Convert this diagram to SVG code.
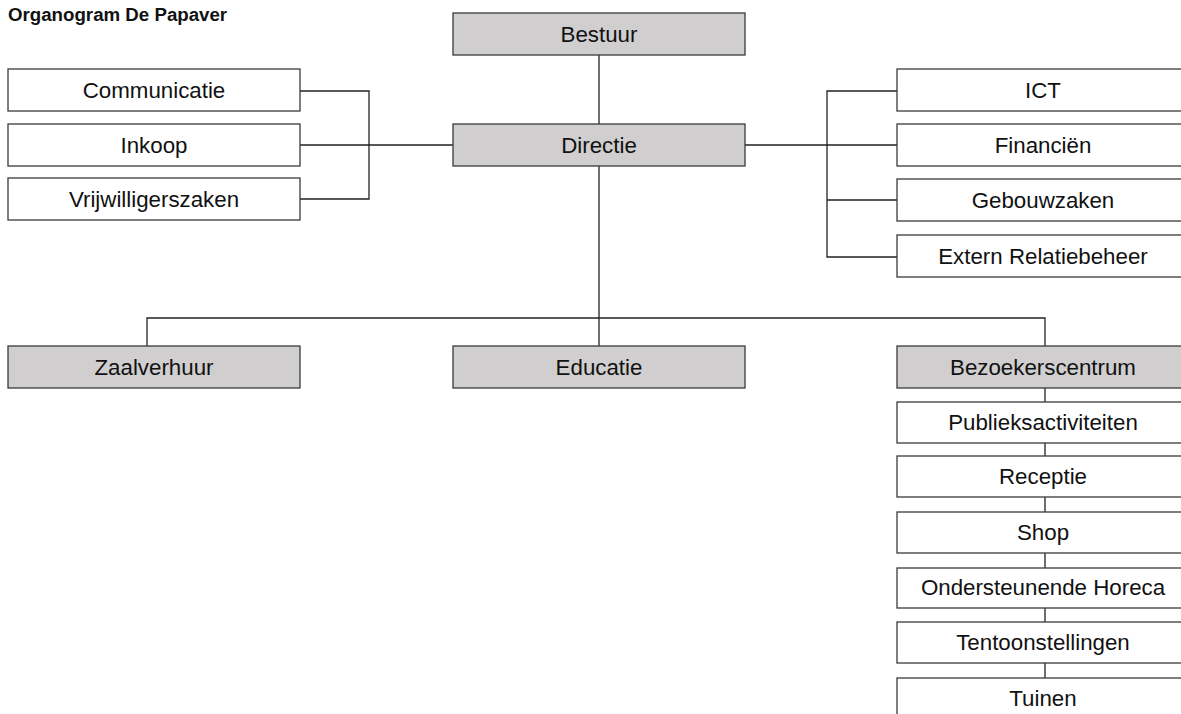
<svg xmlns="http://www.w3.org/2000/svg" width="1181" height="714" viewBox="0 0 1181 714">
<style>
.b{stroke:#3a3a3a;stroke-width:1.3;fill:#fff}
.g{fill:#d0cece}
.t{font-family:"Liberation Sans",Arial,sans-serif;font-size:22.3px;fill:#111;text-anchor:middle}
.c{stroke:#222;stroke-width:1.3;fill:none}
</style>
<rect width="1181" height="714" fill="#fff"/>
<text x="8" y="20.5" style="font-family:'Liberation Sans',Arial,sans-serif;font-size:18.7px;font-weight:bold;fill:#111">Organogram De Papaver</text>
<g id="connectors">
<path class="c" d="M599 55V124M300 91H369V199H300M300 145H453M745 145H897M897 91H827V257H897M827 200H897"/>
<path class="c" d="M599 166V346M147 346V318H1045V346"/>
<path class="c" d="M1045 388V402M1045 443V456M1045 497V512M1045 553V568M1045 608V622M1045 663V678"/>
</g>
<g id="bestuur"><rect class="b g" x="453" y="13" width="292" height="42"/><text class="t" x="599" y="42">Bestuur</text></g>
<g id="directie"><rect class="b g" x="453" y="124" width="292" height="42"/><text class="t" x="599" y="153">Directie</text></g>
<g id="communicatie"><rect class="b" x="8" y="69" width="292" height="42"/><text class="t" x="154" y="98">Communicatie</text></g>
<g id="inkoop"><rect class="b" x="8" y="124" width="292" height="42"/><text class="t" x="154" y="153">Inkoop</text></g>
<g id="vrijwilligerszaken"><rect class="b" x="8" y="178" width="292" height="42"/><text class="t" x="154" y="207">Vrijwilligerszaken</text></g>
<g id="ict"><rect class="b" x="897" y="69" width="292" height="42"/><text class="t" x="1043" y="98">ICT</text></g>
<g id="financien"><rect class="b" x="897" y="124" width="292" height="42"/><text class="t" x="1043" y="153">Financiën</text></g>
<g id="gebouwzaken"><rect class="b" x="897" y="179" width="292" height="42"/><text class="t" x="1043" y="208">Gebouwzaken</text></g>
<g id="extern"><rect class="b" x="897" y="235" width="292" height="42"/><text class="t" x="1043" y="264">Extern Relatiebeheer</text></g>
<g id="zaalverhuur"><rect class="b g" x="8" y="346" width="292" height="42"/><text class="t" x="154" y="375">Zaalverhuur</text></g>
<g id="educatie"><rect class="b g" x="453" y="346" width="292" height="42"/><text class="t" x="599" y="375">Educatie</text></g>
<g id="bezoekerscentrum"><rect class="b g" x="897" y="346" width="292" height="42"/><text class="t" x="1043" y="375">Bezoekerscentrum</text></g>
<g id="publieksactiviteiten"><rect class="b" x="897" y="402" width="292" height="41"/><text class="t" x="1043" y="430">Publieksactiviteiten</text></g>
<g id="receptie"><rect class="b" x="897" y="456" width="292" height="41"/><text class="t" x="1043" y="484">Receptie</text></g>
<g id="shop"><rect class="b" x="897" y="512" width="292" height="41"/><text class="t" x="1043" y="540">Shop</text></g>
<g id="ondersteunende"><rect class="b" x="897" y="568" width="292" height="40"/><text class="t" x="1043" y="595">Ondersteunende Horeca</text></g>
<g id="tentoonstellingen"><rect class="b" x="897" y="622" width="292" height="41"/><text class="t" x="1043" y="650">Tentoonstellingen</text></g>
<g id="tuinen"><rect class="b" x="897" y="678" width="292" height="42"/><text class="t" x="1043" y="706">Tuinen</text></g>
</svg>
